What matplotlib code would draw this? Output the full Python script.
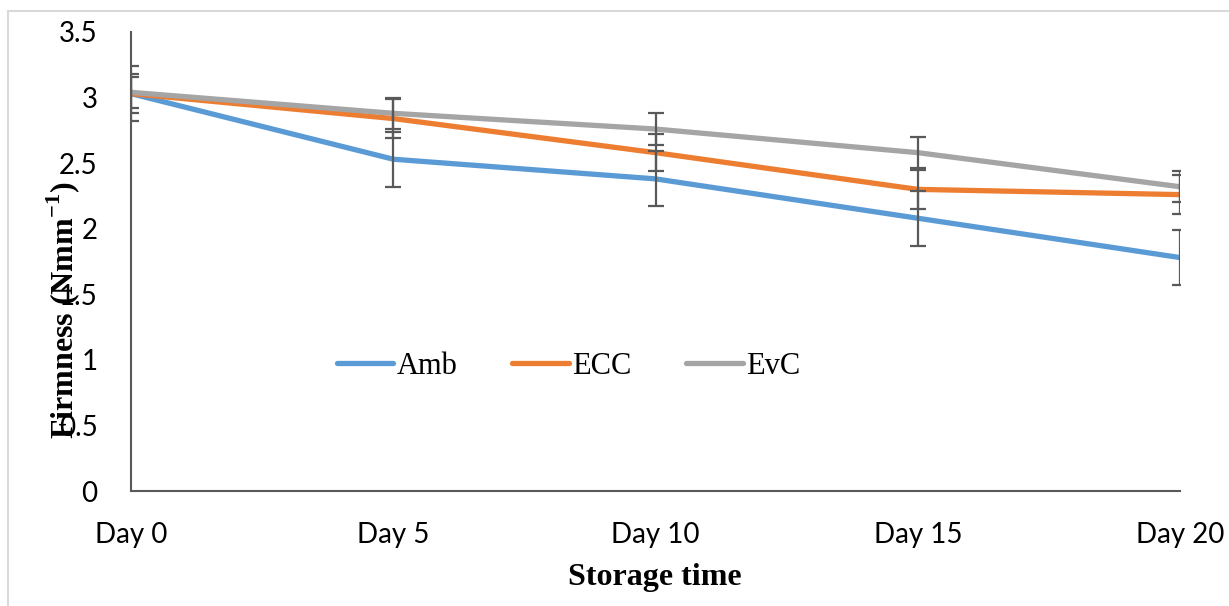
import matplotlib.pyplot as plt
from matplotlib.patches import Rectangle

# data
days = ["Day 0", "Day 5", "Day 10", "Day 15", "Day 20"]
amb = [3.03, 2.53, 2.38, 2.08, 1.78]
ecc = [3.03, 2.84, 2.58, 2.30, 2.26]
evc = [3.04, 2.88, 2.76, 2.58, 2.32]
amb_err = [0.21, 0.21, 0.21, 0.21, 0.21]
ecc_err = [0.15, 0.15, 0.14, 0.15, 0.15]
evc_err = [0.12, 0.12, 0.12, 0.12, 0.12]

W, H = 1229, 606
fig = plt.figure(figsize=(W / 100, H / 100), dpi=100)
ax = fig.add_axes([131 / W, 1 - 491 / H, (1180 - 131) / W, (491 - 32) / H])

# light frame around the chart area
fig.patches.append(Rectangle((8 / W, -0.1), 1.2, 1 - 11 / H + 0.1,
                             transform=fig.transFigure, fill=False,
                             edgecolor="#d9d9d9", lw=1.5))

x = list(range(len(days)))
series = [("Amb", amb, amb_err, "#5b9bd5"),
          ("ECC", ecc, ecc_err, "#ed7d31"),
          ("EvC", evc, evc_err, "#a5a5a5")]
for i, (name, y, e, c) in enumerate(series):
    ax.plot(x, y, color=c, lw=3.8, label=name, zorder=2 + i,
            solid_capstyle="round")
    ax.errorbar(x, y, yerr=e, fmt="none", ecolor="#595959", elinewidth=1.6,
                capsize=6, capthick=1.6, zorder=6)

ax.set_xlim(0, 4)
ax.set_ylim(0, 3.5)
ax.set_yticks([0, 0.5, 1, 1.5, 2, 2.5, 3, 3.5])
ax.set_yticklabels(["0", "0.5", "1", "1.5", "2", "2.5", "3", "3.5"])
ax.set_xticks(x)
ax.set_xticklabels(days)
ax.tick_params(length=0, labelsize=20, pad=22)
ax.tick_params(axis="y", pad=24)
for lab in ax.get_xticklabels() + ax.get_yticklabels():
    lab.set_fontfamily("Lato")

for s in ["top", "right"]:
    ax.spines[s].set_visible(False)
for s in ["left", "bottom"]:
    ax.spines[s].set_color("#595959")
    ax.spines[s].set_linewidth(1.5)

fig.text(655 / W, 1 - 578 / H, "Storage time", ha="center", va="center",
         family="Liberation Serif", fontweight="bold", fontsize=23)
fig.text(63 / W, 1 - 310 / H, "Firmness (Nmm$^{\\mathregular{-1}}$)",
         ha="center", va="center", rotation=90,
         family="Liberation Serif", fontweight="bold", fontsize=23)

ax.legend(loc="center", bbox_to_anchor=(0.417, 0.272), ncol=3, frameon=False,
          prop={"family": "Liberation Serif", "size": 22},
          handlelength=1.85, handletextpad=0.1, columnspacing=1.8)

fig.savefig("out.png", dpi=100)
